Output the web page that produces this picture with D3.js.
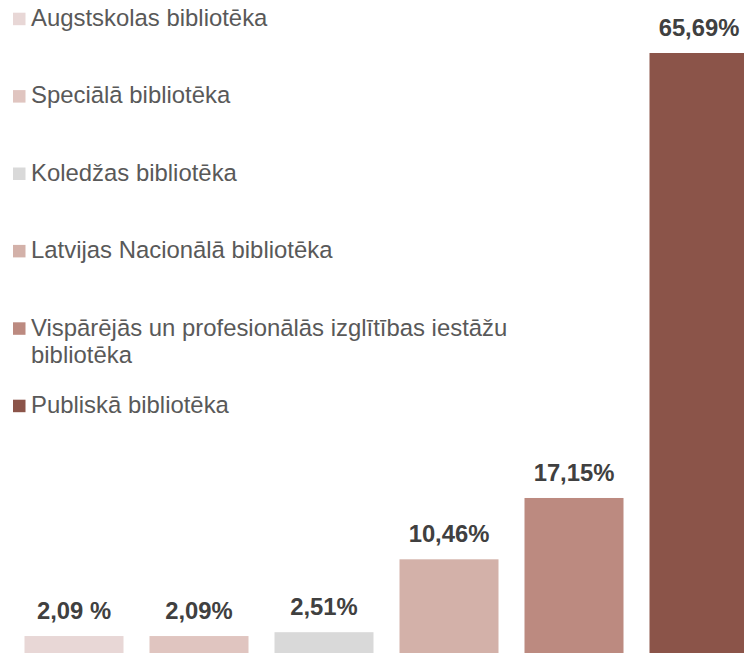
<!DOCTYPE html>
<html>
<head>
<meta charset="utf-8">
<script src="https://cdn.jsdelivr.net/npm/d3@7"></script>
<style>
  html, body { margin: 0; padding: 0; background: #fff; }
  svg { display: block; }
</style>
</head>
<body>
<svg id="chart" width="744" height="653"></svg>
<script>
const categories = [
  "Augstskolas bibliotēka",
  "Speciālā bibliotēka",
  "Koledžas bibliotēka",
  "Latvijas Nacionālā bibliotēka",
  "Vispārējās un profesionālās izglītības iestāžu bibliotēka",
  "Publiskā bibliotēka"
];
const values = [2.09, 2.09, 2.51, 10.46, 17.15, 65.69];
const valueLabels = ["2,09 %", "2,09%", "2,51%", "10,46%", "17,15%", "65,69%"];
const legendLines = [
  ["Augstskolas bibliotēka"],
  ["Speciālā bibliotēka"],
  ["Koledžas bibliotēka"],
  ["Latvijas Nacionālā bibliotēka"],
  ["Vispārējās un profesionālās izglītības iestāžu", "bibliotēka"],
  ["Publiskā bibliotēka"]
];
const colors = ["#e8d7d6", "#e0c5c0", "#d9d9d9", "#d3b1a9", "#bc8a80", "#8b5449"];

const svg = d3.select("#chart");
const font = "'Liberation Sans', Arial, sans-serif";

const x = d3.scaleBand()
  .domain(categories)
  .range([11.5, 761.5])
  .paddingInner(0.208)
  .paddingOuter(0.104);

const y = d3.scaleLinear()
  .domain([0, 65.69])
  .range([655.2, 53]);

const color = d3.scaleOrdinal().domain(categories).range(colors);

svg.append("g").selectAll("rect")
  .data(categories)
  .join("rect")
  .attr("x", d => x(d))
  .attr("width", x.bandwidth())
  .attr("y", (d, i) => y(values[i]))
  .attr("height", (d, i) => y(0) - y(values[i]))
  .attr("fill", d => color(d));

svg.append("g").selectAll("text")
  .data(categories)
  .join("text")
  .attr("x", d => x(d) + x.bandwidth() / 2)
  .attr("y", (d, i) => y(values[i]) - 17)
  .attr("text-anchor", "middle")
  .attr("font-family", font)
  .attr("font-weight", "bold")
  .attr("font-size", "23.8px")
  .attr("fill", "#404040")
  .text((d, i) => valueLabels[i]);

const legendY = d3.scalePoint().domain(categories).range([26, 413]);

const lg = svg.append("g").selectAll("g")
  .data(categories)
  .join("g")
  .attr("transform", d => `translate(0,${legendY(d)})`);

lg.append("rect")
  .attr("x", 13)
  .attr("y", -13.3)
  .attr("width", 12.5)
  .attr("height", 12.5)
  .attr("fill", d => color(d));

lg.append("text")
  .attr("font-family", font)
  .attr("font-size", "23.9px")
  .attr("fill", "#595959")
  .selectAll("tspan")
  .data((d, i) => legendLines[i])
  .join("tspan")
  .attr("x", 31)
  .attr("y", (d, j) => j * 27.5)
  .text(d => d);
</script>
</body>
</html>
